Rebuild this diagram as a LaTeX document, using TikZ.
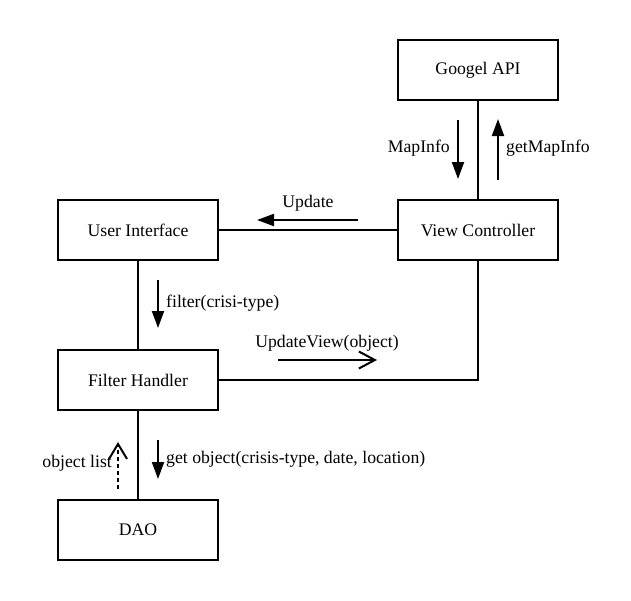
\documentclass[tikz,border=0pt]{standalone}
\usepackage{fontspec}
\setmainfont{Liberation Serif}
\usetikzlibrary{arrows.meta}
\begin{document}
\begin{tikzpicture}[x=1pt,y=-1pt,
  box/.style={draw,line width=2pt,minimum width=160pt,minimum height=60pt,inner sep=0pt,font=\fontsize{17.7}{20}\selectfont},
  conn/.style={line width=2pt},
  lbl/.style={font=\fontsize{17.7}{20}\selectfont,inner sep=0pt},
  msg/.style={line width=2pt,-{Triangle[length=17pt,width=12pt]}},
  omsg/.style={line width=2pt,-{Straight Barb[length=16pt,width=17pt,line width=2pt]}},
  dmsg/.style={line width=2pt,dash pattern=on 4pt off 3pt,-{Straight Barb[length=15pt,width=18pt,line width=2pt,sep=0pt]}}]
\useasboundingbox (0,0) rectangle (631,600);
\node[box] (api) at (478,70) {Googel API};
\node[box] (ui) at (138,230) {User Interface};
\node[box] (vc) at (478,230) {View Controller};
\node[box] (fh) at (138,380) {Filter Handler};
\node[box] (dao) at (138,530) {DAO};
\draw[conn] (api) -- (vc);
\draw[conn] (ui) -- (vc);
\draw[conn] (ui) -- (fh);
\draw[conn] (fh.east) -| (vc.south);
\draw[conn] (fh) -- (dao);
% MapInfo
\coordinate (m1) at (458,120); \coordinate (m2) at (458,179);
\draw[msg] (m1) -- (m2);
\node[lbl,anchor=east] (lmap) at (450,148) {MapInfo};
\coordinate (g1) at (498,180); \coordinate (g2) at (498,119);
\draw[msg] (g1) -- (g2);
\node[lbl,anchor=west] (lget) at (506,148) {getMapInfo};
% Update
\coordinate (u1) at (358,220); \coordinate (u2) at (257,220);
\draw[msg] (u1) -- (u2);
\node[lbl] (lupd) at (308,203) {Update};
% filter
\coordinate (f1) at (158,280); \coordinate (f2) at (158,328);
\draw[msg] (f1) -- (f2);
\node[lbl,anchor=west] (lfil) at (166,303) {filter(crisi-type)};
% UpdateView
\coordinate (v1) at (278,360); \coordinate (v2) at (377,360);
\draw[omsg] (v1) -- (v2);
\node[lbl] (lview) at (327,343) {UpdateView(object)};
% object list
\coordinate (o1) at (118,489); \coordinate (o2) at (118,442);
\draw[dmsg] (o1) -- (o2);
\node[lbl,anchor=east] (lobj) at (112,463) {object list};
% get object
\coordinate (d1) at (158,440); \coordinate (d2) at (158,479);
\draw[msg] (d1) -- (d2);
\node[lbl,anchor=west] (lgo) at (166,459) {get object(crisis-type, date, location)};
\end{tikzpicture}
\end{document}
